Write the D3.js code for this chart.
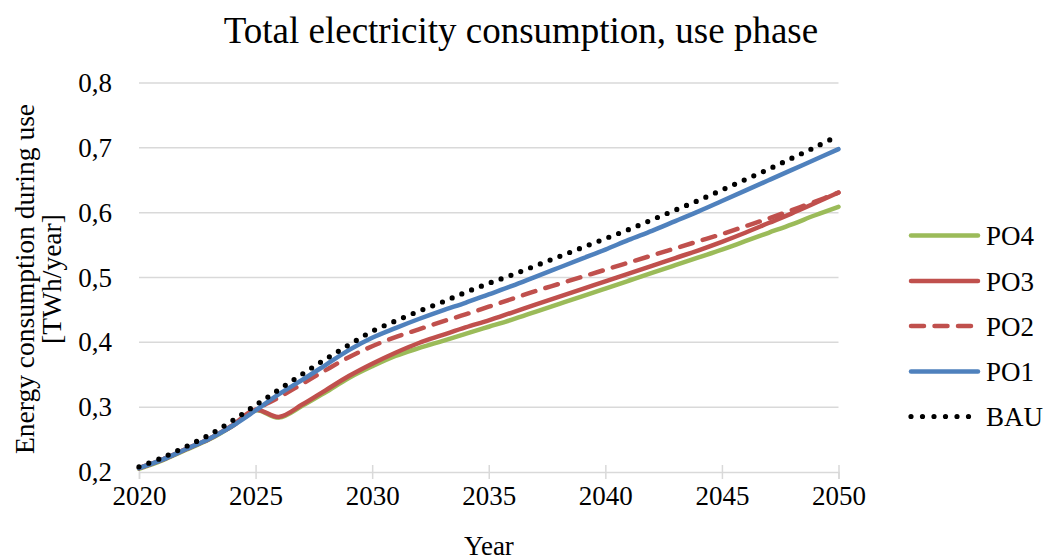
<!DOCTYPE html>
<html>
<head>
<meta charset="utf-8">
<script src="https://cdn.jsdelivr.net/npm/d3@7"></script>
<style>
  html, body { margin: 0; padding: 0; background: #fff; }
  svg { display: block; }
  text { font-family: "Liberation Serif", "Times New Roman", serif; fill: #000; }
</style>
</head>
<body>
<svg id="chart" width="1043" height="560"></svg>
<script>
const years = d3.range(2020, 2051);
const xTicks = [2020, 2025, 2030, 2035, 2040, 2045, 2050];
const yTicks = [0.2, 0.3, 0.4, 0.5, 0.6, 0.7, 0.8];

const bau = [0.208,0.222,0.239,0.257,0.279,0.303,0.327,0.351,0.374,0.396,0.417,0.433,0.448,0.462,0.477,0.491,0.504,0.518,0.532,0.546,0.560,0.574,0.589,0.604,0.619,0.635,0.651,0.667,0.684,0.701,0.719];
const po1 = [0.206,0.219,0.235,0.251,0.271,0.295,0.320,0.342,0.365,0.388,0.407,0.422,0.436,0.449,0.461,0.474,0.487,0.501,0.515,0.529,0.543,0.558,0.572,0.587,0.602,0.618,0.634,0.650,0.666,0.682,0.698];
const po2 = [0.206,0.219,0.235,0.251,0.271,0.296,0.315,0.336,0.357,0.377,0.394,0.408,0.420,0.432,0.443,0.455,0.467,0.479,0.490,0.501,0.512,0.523,0.534,0.545,0.556,0.567,0.579,0.591,0.604,0.617,0.631];
const po3 = [0.206,0.219,0.235,0.251,0.272,0.296,0.285,0.304,0.326,0.348,0.367,0.384,0.399,0.411,0.423,0.434,0.446,0.458,0.470,0.482,0.494,0.506,0.518,0.530,0.542,0.555,0.569,0.584,0.599,0.615,0.631];
const po4 = [0.205,0.218,0.234,0.250,0.271,0.295,0.284,0.302,0.323,0.345,0.363,0.379,0.391,0.402,0.413,0.424,0.435,0.447,0.459,0.471,0.483,0.495,0.507,0.519,0.531,0.543,0.556,0.569,0.582,0.596,0.609];

const seriesNames = ["PO4", "PO3", "PO2", "PO1", "BAU"];
const seriesValues = [po4, po3, po2, po1, bau];

const styles = {
  PO4: { color: "#9BBB59", dash: null },
  PO3: { color: "#C0504D", dash: null },
  PO2: { color: "#C0504D", dash: "13 10.5" },
  PO1: { color: "#4F81BD", dash: null },
  BAU: { color: "#000000", dash: "0 10.5" }
};

const svg = d3.select("#chart");
const plotL = 139, plotR = 838.5, plotT = 83, plotB = 472;

const x = d3.scaleLinear().domain([2020, 2050]).range([plotL, plotR]);
const y = d3.scaleLinear().domain([0.2, 0.8]).range([plotB, plotT]);

// Title
svg.append("text")
  .attr("x", 521).attr("y", 43)
  .attr("text-anchor", "middle")
  .style("font-size", "37px")
  .text("Total electricity consumption, use phase");

// Gridlines
svg.append("g").selectAll("line")
  .data(yTicks.filter(d => d > 0.2))
  .join("line")
  .attr("x1", plotL).attr("x2", plotR)
  .attr("y1", d => y(d)).attr("y2", d => y(d))
  .attr("stroke", "#D9D9D9").attr("stroke-width", 1.5);

// Y axis labels
const yAxis = d3.axisLeft(y).tickValues(yTicks)
  .tickFormat(d => d3.format(".1f")(d).replace(".", ","))
  .tickSize(0).tickPadding(27);
const gy = svg.append("g").attr("transform", `translate(${plotL},0)`).call(yAxis);
gy.select(".domain").remove();
gy.selectAll("text").style("font-size", "27px").style("font-family", "Liberation Serif").attr("fill", "#000");

// X axis
const xAxis = d3.axisBottom(x).tickValues(xTicks).tickFormat(d3.format("d"))
  .tickSize(7).tickPadding(7);
const gx = svg.append("g").attr("transform", `translate(0,${plotB})`).call(xAxis);
gx.select(".domain").attr("stroke", "#D9D9D9").attr("stroke-width", 1.5);
gx.selectAll(".tick line").attr("stroke", "#D9D9D9").attr("stroke-width", 1.5).attr("y1", -7);
gx.selectAll("text").style("font-size", "27px").style("font-family", "Liberation Serif").attr("fill", "#000");

// Axis titles
svg.append("text")
  .attr("x", 489).attr("y", 555)
  .attr("text-anchor", "middle")
  .style("font-size", "27px")
  .text("Year");

const yt = svg.append("text")
  .attr("transform", `translate(34,279) rotate(-90)`)
  .attr("text-anchor", "middle")
  .style("font-size", "27.5px");
yt.append("tspan").attr("x", 0).attr("dy", 0).text("Energy consumption during use");
yt.append("tspan").attr("x", 0).attr("dy", 27).text("[TWh/year]");

// Lines
const line = d3.line()
  .x((d, i) => x(years[i]))
  .y(d => y(d))
  .curve(d3.curveCatmullRom.alpha(0.5));

const gLines = svg.append("g");
seriesNames.forEach((name, k) => {
  const s = styles[name];
  gLines.append("path")
    .datum(seriesValues[k])
    .attr("d", line)
    .attr("fill", "none")
    .attr("stroke", s.color)
    .attr("stroke-width", name === "BAU" ? 5.2 : 4.5)
    .attr("stroke-linecap", "round")
    .attr("stroke-linejoin", "round")
    .attr("stroke-dasharray", s.dash);
});

// Legend
const legendY = [235.5, 281, 326, 371.5, 416.5];
const lg = svg.append("g");
seriesNames.forEach((name, k) => {
  const s = styles[name];
  const yy = legendY[k];
  lg.append("line")
    .attr("x1", 911).attr("x2", 978)
    .attr("y1", yy).attr("y2", yy)
    .attr("stroke", s.color)
    .attr("stroke-width", name === "BAU" ? 5.2 : 4.5)
    .attr("stroke-linecap", "round")
    .attr("stroke-dasharray", name === "PO2" ? "13 10.5" : (name === "BAU" ? "0 11.5" : null));
  lg.append("text")
    .attr("x", 986).attr("y", yy + 9.5)
    .style("font-size", "27px")
    .text(name);
});
</script>
</body>
</html>
